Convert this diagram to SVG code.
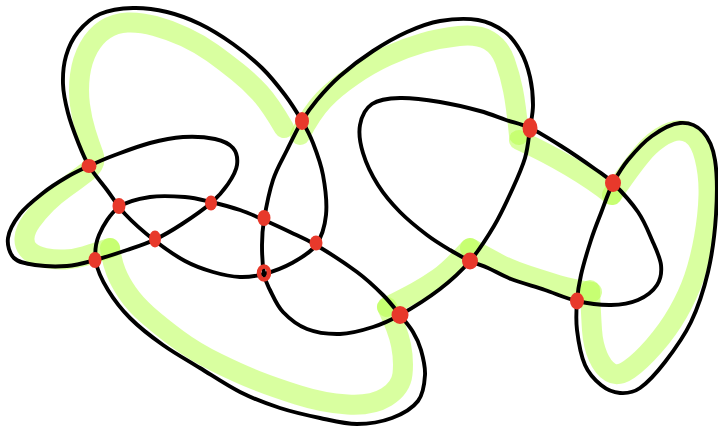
<svg xmlns="http://www.w3.org/2000/svg" width="718" height="427" viewBox="0 0 718 427">
<style>
.hl{fill:none;stroke:rgb(182,255,72);stroke-opacity:0.52;stroke-width:20;stroke-linecap:round;stroke-linejoin:round}
.ln{fill:none;stroke:#000;stroke-width:3.9;stroke-linecap:round;stroke-linejoin:round}
.dot{fill:#e8392b}
.ring{fill:none;stroke:#e8392b;stroke-width:4.5}
</style>
<rect width="718" height="427" fill="#fff"/>
<g id="highlight">
<path class="hl" d="M300,135 Q312,112 323.5,100 Q335,88 352.5,76 Q370,64 387.5,56 Q405,48 422.5,43 Q440,38 459,36 Q478,34 489,40.5 Q500,47 505,61 Q510,75 513,90 Q516,105 519,135"/>
<path class="hl" d="M519,140 C545,152 580,170 612,195"/>
<path class="hl" d="M612,195 Q638,157 649,146.5 Q660,136 671,132 Q682,128 691,134 Q700,140 704.5,157.5 Q709,175 708.5,195 Q708,215 704,237.5 Q700,260 694,277.5 Q688,295 678,312.5 Q668,330 654,346 Q640,362 629,369.5 Q618,377 610.5,372.5 Q603,368 598,356.5 Q593,345 592,330 Q591,315 590,290"/>
<path class="hl" d="M592,292 Q571,289 558,285 Q545,281 528,275.5 Q511,270 499.5,264 Q488,258 470,248"/>
<path class="hl" d="M470,248 Q450,270 438.5,278 Q427,286 416,292 Q405,298 387,307"/>
<path class="hl" d="M387,307 Q398,330 401,345 Q404,360 402.5,374 Q401,388 386.5,397 Q372,406 347.5,404.5 Q323,403 298,395 Q273,387 256.5,380.5 Q240,374 217.5,363 Q195,352 177.5,339 Q160,326 147.5,315 Q135,304 127.5,293 Q120,282 116,272 Q112,262 110,248"/>
<path class="hl" d="M110,248 Q95,253 85,256 Q75,259 65,259.5 Q55,260 45,258 Q35,256 29.5,251 Q24,246 24.5,238 Q25,230 31.5,221 Q38,212 46.5,203.5 Q55,195 65,188 Q75,181 86,172.5 Q97,164 93.5,154.5 Q90,145 86,132.5 Q82,120 80,105 Q78,90 80,75 Q82,60 88.5,48 Q95,36 105,29.5 Q115,23 127.5,22.5 Q140,22 155,26 Q170,30 185,37 Q200,44 212.5,53 Q225,62 237.5,72 Q250,82 260,93 Q270,104 284,128"/>
</g>
<g id="connectors">
<path class="ln" d="M302,121 C297.3,113 291.7,103.8 285,95 C278.3,86.2 270.7,76.5 262,68 C253.3,59.5 243.3,51.3 233,44 C222.7,36.7 211,29.3 200,24 C189,18.7 178.2,14.7 167,12 C155.8,9.3 144.2,7.7 133,8 C121.8,8.3 109.2,10 100,14 C90.8,18 83.7,25 78,32 C72.3,39 68.5,47.3 66,56 C63.5,64.7 62.7,74.5 63,84 C63.3,93.5 65.5,103.3 68,113 C70.5,122.7 74.5,133.2 78,142 C81.5,150.8 84.2,158 89,166 C93.8,174 101,182 107,190 C113,198 117.2,205.7 125,214 C132.8,222.3 144,232.2 154,240 C164,247.8 175.2,255.7 185,261 C194.8,266.3 203.8,269.3 213,272 C222.2,274.7 231.5,276.7 240,277 C248.5,277.3 255.3,276.3 264,274 C272.7,271.7 283.3,267.8 292,263 C300.7,258.2 310.3,253 316,245 C321.7,237 324.8,226.7 326,215 C327.2,203.3 325.2,187 323,175 C320.8,163 316.5,152 313,143 C309.5,134 306.7,129 302,121 Z"/>
<path class="ln" d="M302,121 C307,112.7 310.7,107.5 317,100 C323.3,92.5 330.7,84.2 340,76 C349.3,67.8 361.8,58.3 373,51 C384.2,43.7 395.8,37 407,32 C418.2,27 428.2,23 440,21 C451.8,19 467.2,18.2 478,20 C488.8,21.8 497.8,26.7 505,32 C512.2,37.3 516.8,44.5 521,52 C525.2,59.5 528,68.2 530,77 C532,85.8 533,96.5 533,105 C533,113.5 531.3,119.2 530,128 C528.7,136.8 528,147.7 525,158 C522,168.3 517.2,178.7 512,190 C506.8,201.3 501,214.2 494,226 C487,237.8 479,250.5 470,261 C461,271.5 451.7,280 440,289 C428.3,298 411.2,308.7 400,315 C388.8,321.3 383,323.8 373,327 C363,330.2 351,333.7 340,334 C329,334.3 316.5,332.7 307,329 C297.5,325.3 289.2,318.5 283,312 C276.8,305.5 273.2,296.3 270,290 C266.8,283.7 265.3,281.5 264,274 C262.7,266.5 262,254 262,245 C262,236 262.2,230.8 264,220 C265.8,209.2 269.2,191.7 273,180 C276.8,168.3 282.2,159.8 287,150 C291.8,140.2 297,129.3 302,121 Z"/>
<path class="ln" d="M400,315 C405,321.2 409.5,326.2 413,332 C416.5,337.8 419,342.8 421,350 C423,357.2 425.5,366.5 425,375 C424.5,383.5 423.5,393.8 418,401 C412.5,408.2 402.2,414.2 392,418 C381.8,421.8 369,424 357,424 C345,424 332.8,420.7 320,418 C307.2,415.3 293.3,412.3 280,408 C266.7,403.7 253.3,398.7 240,392 C226.7,385.3 212.8,375.8 200,368 C187.2,360.2 174.7,353.3 163,345 C151.3,336.7 139.2,327.2 130,318 C120.8,308.8 113.7,299.3 108,290 C102.3,280.7 97.5,271.2 96,262 C94.5,252.8 95.2,244.2 99,235 C102.8,225.8 110.5,213.3 119,207 C127.5,200.7 139,198.7 150,197 C161,195.3 174.8,196.2 185,197 C195.2,197.8 201.8,199.8 211,202 C220.2,204.2 231.2,207 240,210 C248.8,213 255.7,216.3 264,220 C272.3,223.7 281.3,227.8 290,232 C298.7,236.2 304.8,238.3 316,245 C327.2,251.7 345.8,263.7 357,272 C368.2,280.3 375.8,287.8 383,295 C390.2,302.2 395,308.8 400,315 Z"/>
<path class="ln" d="M89,166 C81,169.7 74.7,172.5 67,177 C59.3,181.5 50.8,186.8 43,193 C35.2,199.2 25.8,206.5 20,214 C14.2,221.5 9,230.7 8,238 C7,245.3 9.5,253.5 14,258 C18.5,262.5 26.2,263.7 35,265 C43.8,266.3 57,266.8 67,266 C77,265.2 85,262.7 95,260 C105,257.3 117.2,253.3 127,250 C136.8,246.7 144.8,244.3 154,240 C163.2,235.7 172.5,230.2 182,224 C191.5,217.8 203.3,209.7 211,203 C218.7,196.3 223.7,190.3 228,184 C232.3,177.7 236.2,171 237,165 C237.8,159 236.7,152.3 233,148 C229.3,143.7 223.3,140.8 215,139 C206.7,137.2 193.8,136.3 183,137 C172.2,137.7 161.3,140 150,143 C138.7,146 125.2,151.2 115,155 C104.8,158.8 97,162.3 89,166 Z"/>
<path class="ln" d="M613,183 C608.5,191.8 604.7,203.5 601,213 C597.3,222.5 594.3,229.7 591,240 C587.7,250.3 583.3,264.8 581,275 C578.7,285.2 577.7,291.8 577,301 C576.3,310.2 575.7,319.3 577,330 C578.3,340.7 581,355.8 585,365 C589,374.2 595.2,380.3 601,385 C606.8,389.7 613.5,392.5 620,393 C626.5,393.5 632.5,393.2 640,388 C647.5,382.8 656.5,373 665,362 C673.5,351 683.8,337 691,322 C698.2,307 703.8,289.8 708,272 C712.2,254.2 714.8,233.7 716,215 C717.2,196.3 717.2,173.8 715,160 C712.8,146.2 708.8,138.2 703,132 C697.2,125.8 688.5,122.3 680,123 C671.5,123.7 660.7,129.8 652,136 C643.3,142.2 634.5,152.2 628,160 C621.5,167.8 617.5,175.2 613,183 Z"/>
<path class="ln" d="M530,128 C539.2,132.3 550.2,139.2 561,146 C571.8,152.8 586.3,162.8 595,169 C603.7,175.2 605.8,175.8 613,183 C620.2,190.2 631.5,202.5 638,212 C644.5,221.5 648.2,231.2 652,240 C655.8,248.8 660.2,257.5 661,265 C661.8,272.5 660.8,279.2 657,285 C653.2,290.8 645.7,296.7 638,300 C630.3,303.3 621.2,304.8 611,305 C600.8,305.2 588,303.5 577,301 C566,298.5 556,293.7 545,290 C534,286.3 520.5,282.7 511,279 C501.5,275.3 494.8,271 488,268 C481.2,265 476.3,264 470,261 C463.7,258 457.2,254.3 450,250 C442.8,245.7 435.3,241.3 427,235 C418.7,228.7 408.2,220.3 400,212 C391.8,203.7 384.2,194.8 378,185 C371.8,175.2 366,163 363,153 C360,143 358.5,133.2 360,125 C361.5,116.8 365.3,108.5 372,104 C378.7,99.5 388.7,98.3 400,98 C411.3,97.7 426.7,99.8 440,102 C453.3,104.2 469,108 480,111 C491,114 497.7,117.2 506,120 C514.3,122.8 520.8,123.7 530,128 Z"/>
</g>
<g id="node-a"><ellipse class="dot" cx="302" cy="121" rx="7" ry="9"/></g>
<g id="node-b"><ellipse class="dot" cx="89" cy="166" rx="7.5" ry="7"/></g>
<g id="node-c"><ellipse class="dot" cx="119" cy="206" rx="6.5" ry="8"/></g>
<g id="node-d"><ellipse class="dot" cx="211" cy="203" rx="6" ry="7.5"/></g>
<g id="node-e"><ellipse class="dot" cx="155" cy="239" rx="6" ry="8.5"/></g>
<g id="node-f"><ellipse class="dot" cx="264" cy="218" rx="6.5" ry="8"/></g>
<g id="node-g"><ellipse class="dot" cx="316" cy="243" rx="6.5" ry="7.5"/></g>
<g id="node-h"><ellipse class="dot" cx="95" cy="260" rx="6.5" ry="8"/></g>
<g id="node-i"><ellipse class="ring" cx="264" cy="273" rx="5" ry="6.5"/></g>
<g id="node-j"><ellipse class="dot" cx="530" cy="128" rx="7.5" ry="10"/></g>
<g id="node-k"><ellipse class="dot" cx="613" cy="183" rx="8" ry="9"/></g>
<g id="node-l"><ellipse class="dot" cx="470" cy="261" rx="8" ry="8.5"/></g>
<g id="node-m"><ellipse class="dot" cx="400" cy="315" rx="8.5" ry="9"/></g>
<g id="node-n"><ellipse class="dot" cx="577" cy="301" rx="7" ry="8.5"/></g>
</svg>
